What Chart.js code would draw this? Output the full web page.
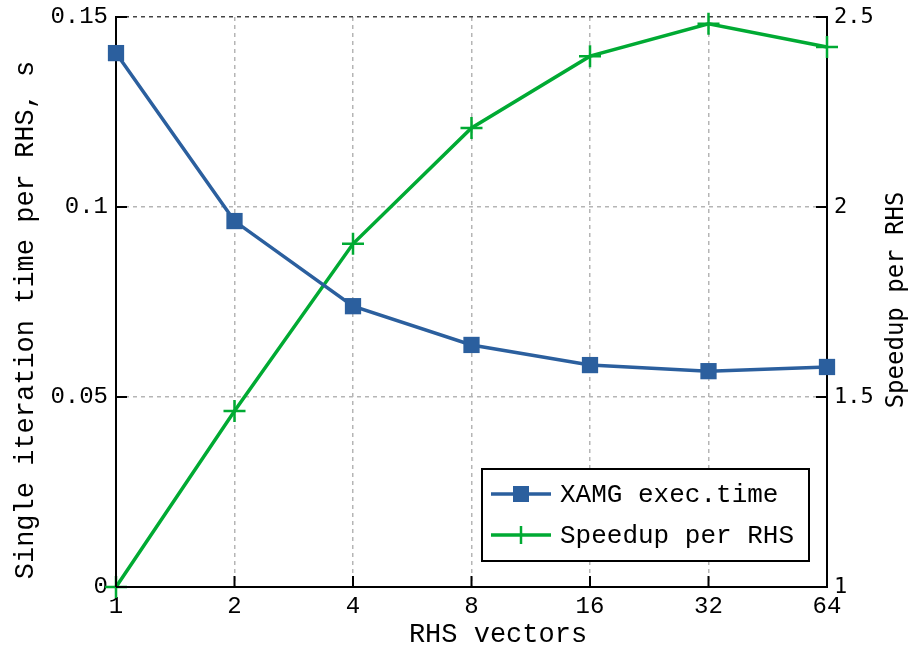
<!DOCTYPE html>
<html>
<head>
<meta charset="utf-8">
<script src="https://cdn.jsdelivr.net/npm/chart.js@4.4.0/dist/chart.umd.min.js"></script>
<style>
  html, body { margin: 0; padding: 0; background: #fff; }
</style>
</head>
<body>
<canvas id="myChart" width="909" height="654"></canvas>
<script>
// Données
const rhsVectors = ['1', '2', '4', '8', '16', '32', '64'];
const execTime = [0.1405, 0.0963, 0.0739, 0.0637, 0.0584, 0.0568, 0.0579];
const speedup = [1.0, 1.463, 1.903, 2.208, 2.397, 2.482, 2.421];
const timeTicks = [0, 0.05, 0.1, 0.15];
const speedupTicks = [1, 1.5, 2, 2.5];

const MONO = '"Liberation Mono", monospace';
const MONO2 = '"DejaVu Sans Mono", monospace';
const BLUE = 'rgb(43, 95, 158)';
const GREEN = 'rgb(0, 170, 51)';

// Petits traits de graduation tournés vers l'intérieur
const innerTicks = {
    id: 'innerTicks',
    afterDatasetsDraw(chart) {
        const ctx = chart.ctx;
        const a = chart.chartArea;
        const len = 11;
        ctx.save();
        ctx.strokeStyle = '#000';
        ctx.lineWidth = 2;
        ctx.beginPath();
        for (const t of chart.scales.y.ticks) {
            const y = chart.scales.y.getPixelForValue(t.value);
            ctx.moveTo(a.left, y); ctx.lineTo(a.left + len, y);
        }
        for (const t of chart.scales.y1.ticks) {
            const y = chart.scales.y1.getPixelForValue(t.value);
            ctx.moveTo(a.right, y); ctx.lineTo(a.right - len, y);
        }
        chart.scales.x.ticks.forEach((t, i) => {
            const x = chart.scales.x.getPixelForTick(i);
            ctx.moveTo(x, a.bottom); ctx.lineTo(x, a.bottom - len);
        });
        ctx.stroke();
        ctx.restore();
    }
};

// Titres des axes + légende dans la zone du graphique
const titlesAndLegend = {
    id: 'titlesAndLegend',
    afterDraw(chart) {
        const ctx = chart.ctx;
        ctx.save();
        ctx.fillStyle = '#000';
        ctx.textAlign = 'center';
        ctx.textBaseline = 'alphabetic';

        ctx.font = '27px ' + MONO;
        ctx.save();
        ctx.translate(33, 320);
        ctx.rotate(-Math.PI / 2);
        ctx.fillText('Single iteration time per RHS, s', 0, 0);
        ctx.restore();

        ctx.font = '24px ' + MONO2;
        ctx.save();
        ctx.translate(903, 300);
        ctx.rotate(-Math.PI / 2);
        ctx.fillText('Speedup per RHS', 0, 0);
        ctx.restore();

        ctx.font = '27px ' + MONO;
        ctx.fillText('RHS vectors', 498, 642);

        // légende
        const bx = 482, by = 469, bw = 327, bh = 92;
        ctx.fillStyle = '#fff';
        ctx.fillRect(bx, by, bw, bh);
        ctx.strokeStyle = '#000';
        ctx.lineWidth = 2;
        ctx.strokeRect(bx, by, bw, bh);

        ctx.font = '26px ' + MONO;
        ctx.textAlign = 'left';
        ctx.textBaseline = 'middle';
        chart.data.datasets.forEach((ds, i) => {
            const y = 494 + i * 41;
            ctx.strokeStyle = ds.borderColor;
            ctx.lineWidth = 3.5;
            ctx.beginPath();
            ctx.moveTo(491, y); ctx.lineTo(551, y);
            ctx.stroke();
            if (ds.pointStyle === 'rect') {
                ctx.fillStyle = ds.borderColor;
                ctx.fillRect(513, y - 8, 16, 16);
            } else {
                ctx.lineWidth = 2.5;
                ctx.beginPath();
                ctx.moveTo(521, y - 9); ctx.lineTo(521, y + 9);
                ctx.stroke();
            }
            ctx.fillStyle = '#000';
            ctx.fillText(ds.label, 560, y + 1);
        });
        ctx.restore();
    }
};

const ctx = document.getElementById('myChart');
new Chart(ctx, {
    type: 'line',
    data: {
        labels: rhsVectors,
        datasets: [
            {
                label: 'XAMG exec.time',
                data: execTime,
                yAxisID: 'y',
                borderColor: BLUE,
                backgroundColor: BLUE,
                borderWidth: 3.5,
                pointStyle: 'rect',
                pointRadius: 11.5,
                pointBorderWidth: 0,
                tension: 0,
                clip: false
            },
            {
                label: 'Speedup per RHS',
                data: speedup,
                yAxisID: 'y1',
                borderColor: GREEN,
                backgroundColor: GREEN,
                borderWidth: 3.5,
                pointStyle: 'cross',
                pointRadius: 11,
                pointBorderWidth: 2.5,
                tension: 0,
                clip: false
            }
        ]
    },
    options: {
        responsive: false,
        animation: false,
        devicePixelRatio: 1,
        layout: { padding: { top: 17, left: 0, right: 0, bottom: 0 } },
        plugins: {
            legend: { display: false },
            tooltip: { enabled: false }
        },
        scales: {
            x: {
                type: 'category',
                offset: false,
                afterFit: (s) => { s.height = 67; },
                grid: { color: '#b5b5b5', lineWidth: 1.5, drawTicks: false },
                border: { color: '#000', width: 2, dash: [4, 4] },
                ticks: { color: '#000', font: { family: MONO, size: 24 }, padding: 5, maxRotation: 0 }
            },
            y: {
                position: 'left',
                min: 0,
                max: 0.15,
                afterFit: (s) => { s.width = 116; },
                afterBuildTicks: (s) => { s.ticks = timeTicks.map(v => ({ value: v })); },
                grid: {
                    color: (c) => (c.tick && c.tick.value === 0.15 ? '#444' : '#b5b5b5'),
                    lineWidth: 1.5,
                    drawTicks: false
                },
                border: { color: '#000', width: 2, dash: [4, 4] },
                ticks: {
                    color: '#000',
                    font: { family: MONO, size: 24, lineHeight: 0.6 },
                    padding: 8,
                    callback: (v) => String(+Number(v).toFixed(3))
                }
            },
            y1: {
                position: 'right',
                min: 1,
                max: 2.5,
                afterFit: (s) => { s.width = 82; },
                afterBuildTicks: (s) => { s.ticks = speedupTicks.map(v => ({ value: v })); },
                grid: { drawOnChartArea: false, drawTicks: false },
                border: { color: '#000', width: 2 },
                ticks: {
                    color: '#000',
                    font: { family: MONO2, size: 22, lineHeight: 0.6 },
                    padding: 7,
                    callback: (v) => String(v)
                }
            }
        }
    },
    plugins: [innerTicks, titlesAndLegend]
});
</script>
</body>
</html>
